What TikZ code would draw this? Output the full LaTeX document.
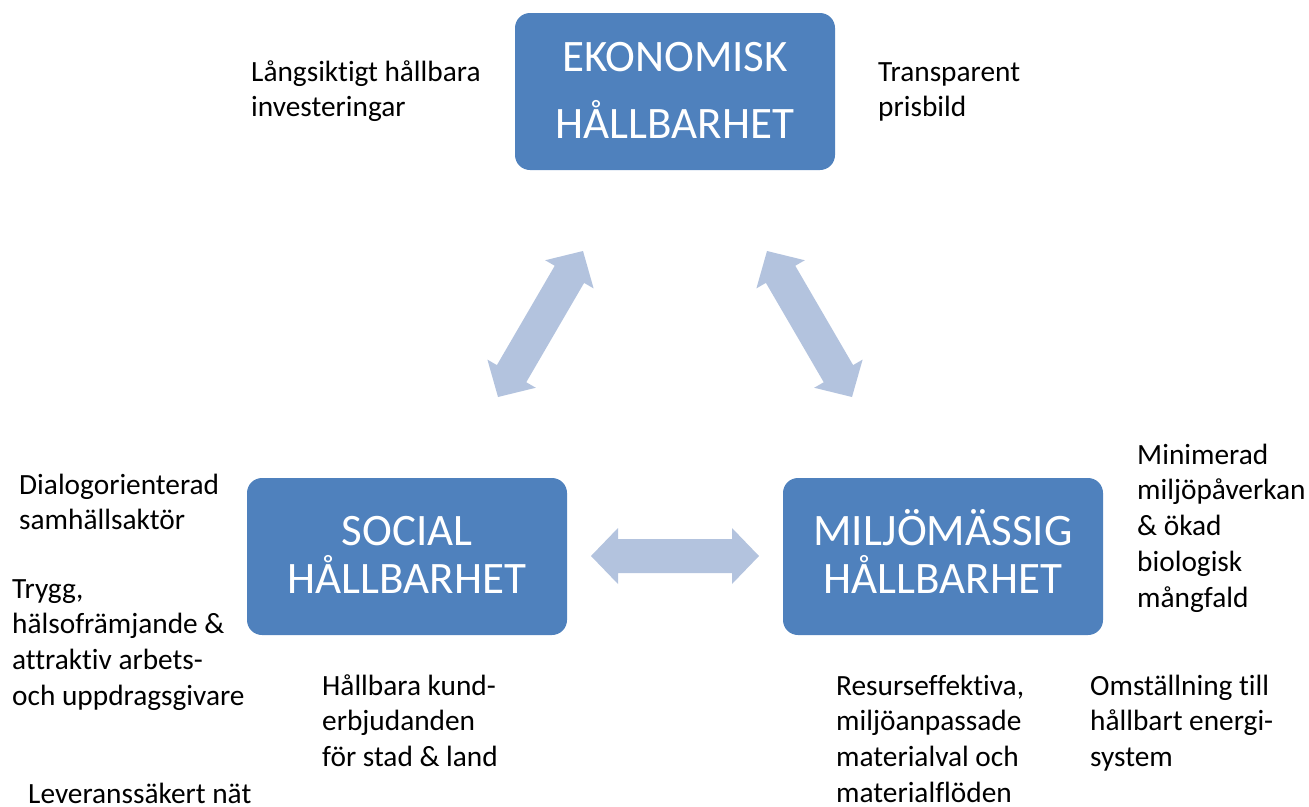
\documentclass[tikz,border=0pt]{standalone}
\usepackage{fontspec}
\setmainfont{Carlito}[Ligatures=NoCommon]
\usetikzlibrary{calc}
\definecolor{boxblue}{HTML}{4F81BD}
\definecolor{arrblue}{HTML}{B3C3DE}
\newcommand\dblarr[2]{%
  \fill[arrowfill] (#1)
    -- ($(#1)!27pt!(#2)!28pt!90:(#2)$) -- ($(#1)!27pt!(#2)!17pt!90:(#2)$)
    -- ($(#2)!27pt!(#1)!17pt!-90:(#1)$) -- ($(#2)!27pt!(#1)!28pt!-90:(#1)$)
    -- (#2)
    -- ($(#2)!27pt!(#1)!28pt!90:(#1)$) -- ($(#2)!27pt!(#1)!17pt!90:(#1)$)
    -- ($(#1)!27pt!(#2)!17pt!-90:(#2)$) -- ($(#1)!27pt!(#2)!28pt!-90:(#2)$)
    -- cycle;}
\begin{document}
\begin{tikzpicture}[x=1pt,y=-1pt,
  box/.style={fill=boxblue, rounded corners=15pt, minimum width=320pt, minimum height=157pt, inner sep=0pt},
  boxtext/.style={text=white, align=center, inner sep=0pt, anchor=base},
  lbl/.style={font=\fontsize{29.33}{35.8}\selectfont, align=left, inner sep=0pt, anchor=base west},
  arrowfill/.style={fill=arrblue}]
\useasboundingbox (0,0) rectangle (1309,806);
% boxes
\node[box] (eko) at (675,91.5) {};
\node[box] (soc) at (407,556.5) {};
\node[box] (mil) at (943,556.5) {};
% (base anchor = baseline of the last line)
\node[boxtext, font=\fontsize{45}{67}\selectfont] (ekot) at (675,138) {EKONOMISK\\HÅLLBARHET};
\node[boxtext, font=\fontsize{45}{48}\selectfont] (soct) at (407,593) {SOCIAL\\HÅLLBARHET};
\node[boxtext, font=\fontsize{45}{48}\selectfont] (milt) at (943,593) {MILJÖMÄSSIG\\HÅLLBARHET};
% arrows
\coordinate (a1s) at (498,397); \coordinate (a1e) at (583,251);
\coordinate (a2s) at (852,397); \coordinate (a2e) at (767,251);
\coordinate (a3s) at (591,556); \coordinate (a3e) at (759,556);
\dblarr{a1s}{a1e}
\dblarr{a2s}{a2e}
\dblarr{a3s}{a3e}
% labels (positions = baseline of last line)
\node[lbl] (t1) at (251,116.8) {Långsiktigt hållbara\\investeringar};
\node[lbl] (t2) at (878,116.8) {Transparent\\prisbild};
\node[lbl] (t3) at (19,529.8) {Dialogorienterad\\samhällsaktör};
\node[lbl] (t4) at (12,705.4) {Trygg,\\hälsofrämjande \&\\attraktiv arbets-\\och uppdragsgivare};
\node[lbl] (t5) at (28,803) {Leveranssäkert nät};
\node[lbl] (t6) at (322,766.6) {Hållbara kund-\\erbjudanden\\för stad \& land};
\node[lbl] (t7) at (1137,607.2) {Minimerad\\miljöpåverkan\\\& ökad\\biologisk\\mångfald};
\node[lbl] (t8) at (836,802.4) {Resurseffektiva,\\miljöanpassade\\materialval och\\materialflöden};
\node[lbl] (t9) at (1090,766.6) {Omställning till\\hållbart energi-\\system};
\end{tikzpicture}
\end{document}
